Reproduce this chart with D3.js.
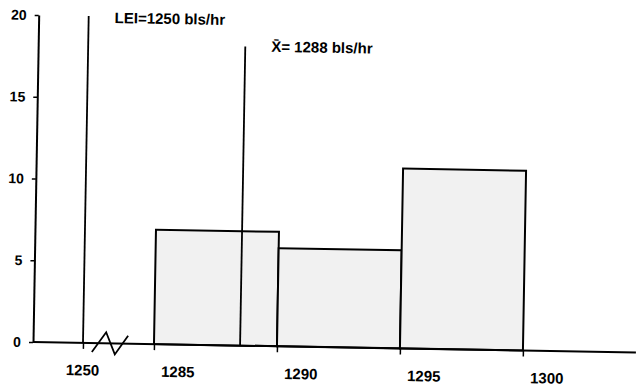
<!DOCTYPE html>
<html>
<head>
<meta charset="utf-8">
<script src="https://cdn.jsdelivr.net/npm/d3@7"></script>
<style>
  body { margin: 0; background: #fff; }
  text { font-family: "Liberation Sans", Arial, sans-serif; font-weight: bold; fill: #000; }
</style>
</head>
<body>
<svg id="chart" width="640" height="391"></svg>
<script>
// Line-rate histogram (bls/hr): class boundaries and counts per class
const binEdges = [1284.5, 1289.5, 1294.5, 1299.5];
const binCounts = [7, 6, 11];
const xTickLabels = [1250, 1285, 1290, 1295, 1300];
const yTickValues = [0, 5, 10, 15, 20];
// Reference lines: lower efficiency limit and process mean
const refLineValues = [1250, 1288];
const refLineTops = [20, 18.3];
const refLineLabels = ["LEI=1250 bls/hr", "X\u0304= 1288 bls/hr"];

const svg = d3.select("#chart");
const origin = [33, 342];
// the whole figure sits slightly skewed on the page
const g = svg.append("g").attr("transform", `rotate(1, ${origin[0]}, ${origin[1]})`);

const y = d3.scaleLinear().domain([0, 20]).range([342, 15]);
// broken axis: 1250 is drawn close to the start, then 1284.5 onward at full scale
const unit = 24.6;
const x = d3.scaleLinear()
  .domain([1250, 1284.5, 1301])
  .range([83, 154, 154 + 16.5 * unit]);

// bars
const bins = binCounts.map((c, i) => ({ x0: binEdges[i], x1: binEdges[i + 1], c }));
g.selectAll("rect.bar").data(bins).join("rect")
  .attr("class", "bar")
  .attr("x", d => x(d.x0))
  .attr("width", d => x(d.x1) - x(d.x0))
  .attr("y", d => y(d.c))
  .attr("height", d => y(0) - y(d.c))
  .attr("fill", "#f1f1f1")
  .attr("stroke", "#000")
  .attr("stroke-width", 2);

// y axis
const yAxis = g.append("g")
  .attr("transform", `translate(${origin[0]},0)`)
  .call(d3.axisLeft(y).tickValues(yTickValues).tickSize(4).tickSizeOuter(0).tickPadding(8));
yAxis.select(".domain").attr("stroke-width", 2);
yAxis.selectAll(".tick line").attr("stroke-width", 1.5);
yAxis.selectAll("text").style("font-size", "14px").attr("font-family", null);

// x axis line
g.append("line")
  .attr("x1", origin[0]).attr("x2", 636)
  .attr("y1", y(0)).attr("y2", y(0))
  .attr("stroke", "#000").attr("stroke-width", 2);

// x ticks at 1250 and at the class boundaries
const xAxis = g.append("g")
  .attr("transform", `translate(0,${y(0)})`)
  .call(d3.axisBottom(x).tickValues([1250].concat(binEdges)).tickSize(6).tickFormat(""));
xAxis.select(".domain").remove();
xAxis.selectAll(".tick line").attr("stroke-width", 1.5);

// x tick labels
g.selectAll("text.xl").data(xTickLabels).join("text")
  .attr("class", "xl")
  .attr("x", d => x(d) + (d === 1250 ? 0 : 12))
  .attr("y", 374.5)
  .attr("text-anchor", "middle")
  .style("font-size", "15px")
  .text(d => d);

// axis break marker
const bx = x(1250) + 9;
g.append("path")
  .attr("d", `M${bx},351 L${bx + 14},331 L${bx + 23},353 L${bx + 36},334`)
  .attr("fill", "none").attr("stroke", "#000").attr("stroke-width", 1.8);

// reference lines with labels
const refs = refLineValues.map((v, i) => ({ v, top: refLineTops[i], label: refLineLabels[i] }));
g.selectAll("line.ref").data(refs).join("line")
  .attr("class", "ref")
  .attr("x1", d => x(d.v)).attr("x2", d => x(d.v))
  .attr("y1", d => y(d.top)).attr("y2", y(0))
  .attr("stroke", "#000").attr("stroke-width", 1.8);

g.selectAll("text.refl").data(refs).join("text")
  .attr("class", "refl")
  .attr("x", (d, i) => x(d.v) + 26)
  .attr("y", (d, i) => (i === 0 ? 21.6 : 47.7))
  .style("font-size", "15px")
  .text(d => d.label);
</script>
</body>
</html>
